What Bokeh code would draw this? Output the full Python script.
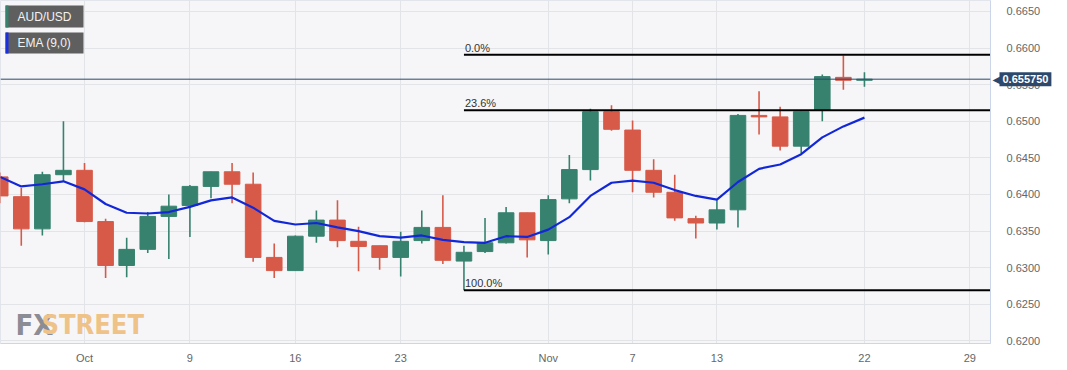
import pandas as pd
from bokeh.plotting import figure
from bokeh.models import (ColumnDataSource, FixedTicker, Span, Label, BoxAnnotation,
                          Range1d, NumeralTickFormatter)
from bokeh.embed import file_html
from bokeh.resources import INLINE
from bokeh.core.properties import value

# ---------------- data ----------------
dates = pd.bdate_range("2023-09-26", "2023-11-22")
opens = [0.6424, 0.6397, 0.6353, 0.6427, 0.6433, 0.6363, 0.6303, 0.6325, 0.6370, 0.6385,
         0.6411, 0.6431, 0.6414, 0.6314, 0.6296, 0.6343, 0.6365, 0.6336, 0.6330, 0.6314,
         0.6337, 0.6355, 0.6309, 0.6322, 0.6334, 0.6375, 0.6337, 0.6394, 0.6434, 0.6513,
         0.6488, 0.6433, 0.6403, 0.6367, 0.6361, 0.6379, 0.6508, 0.6506, 0.6466, 0.6515,
         0.6560, 0.6556]
highs = [0.6430, 0.6409, 0.6431, 0.6500, 0.6443, 0.6367, 0.6341, 0.6376, 0.6400, 0.6413,
         0.6431, 0.6443, 0.6430, 0.6333, 0.6344, 0.6378, 0.6392, 0.6356, 0.6330, 0.6349,
         0.6378, 0.6399, 0.6330, 0.6368, 0.6383, 0.6375, 0.6399, 0.6454, 0.6517, 0.6522,
         0.6501, 0.6448, 0.6427, 0.6371, 0.6392, 0.6510, 0.6541, 0.6520, 0.6513, 0.6564,
         0.6590, 0.6567]
lows = [0.6388, 0.6330, 0.6344, 0.6418, 0.6362, 0.6286, 0.6287, 0.6320, 0.6312, 0.6342,
        0.6395, 0.6388, 0.6308, 0.6286, 0.6296, 0.6334, 0.6328, 0.6295, 0.6297, 0.6288,
        0.6333, 0.6305, 0.6269, 0.6320, 0.6333, 0.6314, 0.6318, 0.6388, 0.6419, 0.6487,
        0.6403, 0.6396, 0.6364, 0.6340, 0.6352, 0.6355, 0.6482, 0.6460, 0.6456, 0.6500,
        0.6543, 0.6547]
closes = [0.6398, 0.6353, 0.6427, 0.6433, 0.6363, 0.6303, 0.6325, 0.6370, 0.6384, 0.6411,
          0.6431, 0.6414, 0.6314, 0.6296, 0.6343, 0.6365, 0.6337, 0.6329, 0.6314, 0.6336,
          0.6355, 0.6310, 0.6321, 0.6334, 0.6375, 0.6338, 0.6393, 0.6434, 0.6513, 0.6489,
          0.6433, 0.6403, 0.6368, 0.6361, 0.6379, 0.6508, 0.6506, 0.6466, 0.6513, 0.6561,
          0.6556, 0.65575]
ema = [0.6424, 0.6411, 0.6414, 0.6418, 0.6407, 0.6387, 0.6375, 0.6374, 0.6376, 0.6383,
       0.6392, 0.6396, 0.6382, 0.6364, 0.6359, 0.6361, 0.6355, 0.6350, 0.6343, 0.6341,
       0.6344, 0.6338, 0.6335, 0.6334, 0.6343, 0.6342, 0.6352, 0.6369, 0.6398, 0.6416,
       0.6419, 0.6416, 0.6406, 0.6398, 0.6393, 0.6417, 0.6435, 0.6441, 0.6455, 0.6478,
       0.6493, 0.6505]
fib_levels = [0.6591, 0.6515, 0.6269]
fib_labels = ["0.0%", "23.6%", "100.0%"]
fib_start = "2023-10-26"
last_price = 0.65575
tick_dates = ["2023-10-02", "2023-10-09", "2023-10-16", "2023-10-23", "2023-11-01",
              "2023-11-07", "2023-11-13", "2023-11-22", "2023-11-29"]
tick_labels = ["Oct", "9", "16", "23", "Nov", "7", "13", "22", "29"]
y_ticks = [0.620, 0.625, 0.630, 0.635, 0.640, 0.645, 0.650, 0.655, 0.660, 0.665]

# ---------------- layout ----------------
FONT = "Liberation Sans"
FRAME_W, FRAME_H = 990, 343
X0, X1 = 0.014, 46.98
Y0, Y1 = 0.61964, 0.6665

cal = pd.bdate_range("2023-09-26", "2023-12-01")
pos = {d.strftime("%Y-%m-%d"): i for i, d in enumerate(cal)}
xs = [pos[d.strftime("%Y-%m-%d")] for d in dates]

def xpx(px):
    return X0 + px / FRAME_W * (X1 - X0)

def ypx(py):
    return Y1 - py / FRAME_H * (Y1 - Y0)

GREEN = "#37826f"
RED = "#d75a49"
NAVY = "#2c486d"
colors = [GREEN if c >= o else RED for o, c in zip(opens, closes)]

src = ColumnDataSource(dict(
    x=xs, open=opens, high=highs, low=lows, close=closes,
    top=[max(o, c) for o, c in zip(opens, closes)],
    bottom=[min(o, c) for o, c in zip(opens, closes)],
    color=colors, ema=ema))

p = figure(frame_width=FRAME_W, frame_height=FRAME_H,
           x_range=Range1d(X0, X1), y_range=Range1d(Y0, Y1),
           output_backend="svg", toolbar_location=None, y_axis_location="right",
           min_border_left=0, min_border_top=0, min_border_right=77, min_border_bottom=27,
           background_fill_color="#f6f6f8", border_fill_color="white",
           outline_line_color="#e2e5ec")

# axes
p.yaxis.ticker = FixedTicker(ticks=y_ticks)
p.yaxis.formatter = NumeralTickFormatter(format="0.0000")
p.xaxis.ticker = FixedTicker(ticks=[pos[d] for d in tick_dates])
p.xaxis.major_label_overrides = {pos[d]: l for d, l in zip(tick_dates, tick_labels)}
for ax in (p.xaxis[0], p.yaxis[0]):
    ax.axis_line_color = "#ccd6eb"
    ax.major_tick_line_color = None
    ax.minor_tick_line_color = None
    ax.major_label_text_font = FONT
    ax.major_label_text_font_size = "11px"
    ax.major_label_text_color = "#666666"
p.yaxis.major_label_standoff = 10
p.xaxis.major_label_standoff = 2
p.xgrid.ticker = FixedTicker(ticks=[pos[d] for d in tick_dates])
p.ygrid.ticker = FixedTicker(ticks=y_ticks)
p.xgrid.grid_line_color = "#e3e4e8"
p.ygrid.grid_line_color = "#e3e4e8"

# candles
p.segment(x0="x", y0="low", x1="x", y1="high", color="color", line_width=1.6, source=src)
p.vbar(x="x", width=0.74, top="top", bottom="bottom", fill_color="color",
       line_color="color", line_width=1, source=src)

# EMA
p.line(x="x", y="ema", color="#1228d8", line_width=2.2, source=src)

# fib lines
fx = pos[fib_start]
p.segment(x0=[fx] * len(fib_levels), y0=fib_levels, x1=[X1 + 1] * len(fib_levels),
          y1=fib_levels, color="black", line_width=2)
p.text(x=[fx] * len(fib_levels), y=fib_levels, text=fib_labels, text_font=value(FONT),
       text_font_size="11px", text_color="#333333", text_baseline="bottom",
       x_offset=1, y_offset=-1)

# last price line and its tag on the price axis (side-panel annotations are not clipped)
p.add_layout(Span(location=last_price, dimension="width", line_color=NAVY, line_width=1))
p.add_layout(Label(x=X1, y=last_price, x_offset=9, text=f"{last_price:.6f}",
                   text_font=FONT, text_font_size="11px", text_font_style="bold",
                   text_color="white", text_baseline="middle", text_align="left",
                   background_fill_color=NAVY, padding=3), "right")
p.add_layout(Label(x=X1, y=last_price, x_offset=2, text="\u25C0", text_font="DejaVu Sans",
                   text_font_size="10px", text_color=NAVY, text_baseline="middle",
                   text_align="left"), "right")

# legend boxes
for (top, bot, stripe, txt) in [(5, 27, GREEN, "AUD/USD"), (32, 53, "#1a2fe0", "EMA (9,0)")]:
    p.add_layout(BoxAnnotation(left=xpx(5), right=xpx(83), top=ypx(top), bottom=ypx(bot),
                               fill_color="#5f5f5f", fill_alpha=1, line_alpha=0))
    p.add_layout(BoxAnnotation(left=xpx(5), right=xpx(8), top=ypx(top), bottom=ypx(bot),
                               fill_color=stripe, fill_alpha=1, line_alpha=0))
    p.add_layout(Label(x=xpx(17), y=ypx((top + bot) / 2), text=txt, text_font=FONT,
                       text_font_size="12px", text_color="#f2f2f2",
                       text_baseline="middle", text_align="left"))

# watermark
p.add_layout(Label(x=xpx(15), y=ypx(324), text="FX", text_font="DejaVu Sans Condensed",
                   text_font_style="bold", text_font_size="29px", text_color="#8c8c94",
                   text_baseline="alphabetic"))
p.add_layout(Label(x=xpx(41), y=ypx(324), text="STREET", text_font="DejaVu Sans Condensed",
                   text_font_style="bold", text_font_size="27px", text_color="#efc287",
                   text_baseline="alphabetic"))

open("out.html", "w").write(file_html(p, INLINE))
